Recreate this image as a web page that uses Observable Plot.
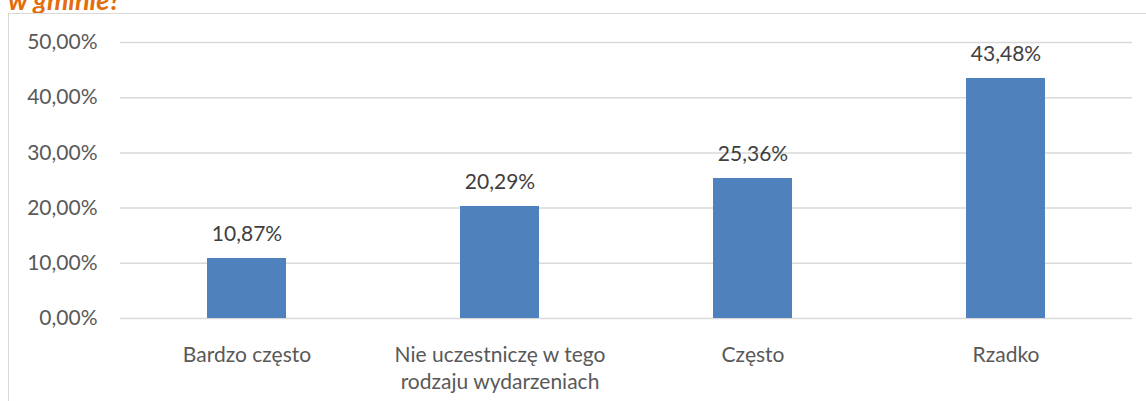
<!DOCTYPE html>
<html>
<head>
<meta charset="utf-8">
<script src="https://cdn.jsdelivr.net/npm/d3@7"></script>
<script src="https://cdn.jsdelivr.net/npm/@observablehq/plot@0.6"></script>
<style>
  html, body { margin: 0; padding: 0; background: #fff; overflow: hidden; }
  #wrap { position: relative; width: 1146px; height: 401px; overflow: hidden; font-family: Lato, "Open Sans", sans-serif; }
  #title { position: absolute; left: 8px; top: -17px; font: italic bold 27px Lato, sans-serif; color: #E46C0A; white-space: nowrap; }
  #frame { position: absolute; left: 8px; top: 13px; width: 1200px; height: 500px; border-left: 1.5px solid #d9d9d9; border-top: 1.5px solid #d9d9d9; }
  #chart { position: absolute; left: 0; top: 0; }
</style>
</head>
<body>
<div id="wrap">
  <div id="title">w gminie?</div>
  <div id="frame"></div>
  <div id="chart"></div>
</div>
<script>
const categories = ["Bardzo często", "Nie uczestniczę w tego rodzaju wydarzeniach", "Często", "Rzadko"];
const xLabels = ["Bardzo często", "Nie uczestniczę w tego\nrodzaju wydarzeniach", "Często", "Rzadko"];
const values = [10.87, 20.29, 25.36, 43.48];
const yTicks = [0, 10, 20, 30, 40, 50];

const data = categories.map((c, i) => ({category: c, value: values[i]}));
const pct = d => d.toFixed(2).replace(".", ",") + "%";

const plot = Plot.plot({
  width: 1146,
  height: 401,
  marginLeft: 120,
  marginRight: 14,
  marginTop: 42,
  marginBottom: 83,
  style: {fontFamily: "Lato, sans-serif", background: "transparent"},
  x: {domain: categories, paddingInner: 0.688, paddingOuter: 0.344, align: 0.5},
  y: {domain: [0, 50]},
  marks: [
    Plot.ruleY(yTicks, {stroke: "#d9d9d9", strokeWidth: 1.5}),
    Plot.barY(data, {x: "category", y: "value", fill: "#4F81BD"}),
    Plot.text(data, {x: "category", y: "value", text: d => pct(d.value), dy: -24, fontSize: 21, fill: "#404040"}),
    Plot.axisY({ticks: yTicks, tickFormat: pct, tickSize: 0, tickPadding: 23, fontSize: 21, color: "#595959", label: null}),
    Plot.axisX({tickSize: 0, tickPadding: 24, fontSize: 21, color: "#595959", lineHeight: 1.3, label: null,
      tickFormat: d => xLabels[categories.indexOf(d)]})
  ]
});
document.getElementById("chart").appendChild(plot);
</script>
</body>
</html>
